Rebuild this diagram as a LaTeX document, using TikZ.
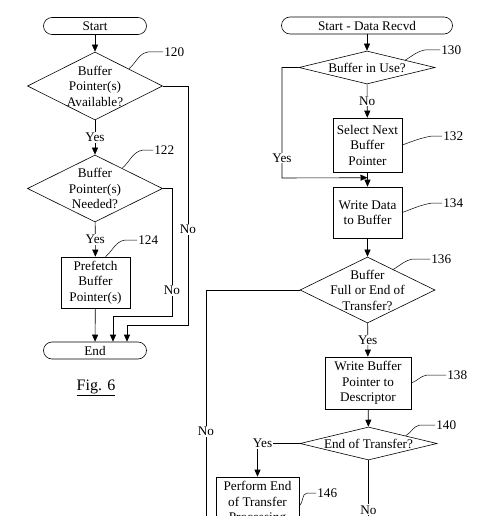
\documentclass[tikz,border=0pt]{standalone}
\usepackage{fontspec}
\setmainfont{Liberation Serif}
\usetikzlibrary{shapes.geometric,arrows.meta,calc}
\begin{document}
\begin{tikzpicture}[x=1pt,y=-1pt,>={Triangle[length=7pt,width=6pt]},line width=0.6pt,font=\fontsize{13.2}{15.5}\selectfont]
  \tikzstyle{terminal}=[draw,rounded corners=8.5pt,minimum height=17pt,inner sep=0pt]
  \tikzstyle{decision}=[diamond,draw,inner sep=0pt]
  \tikzstyle{process}=[draw,align=center,inner sep=2pt,minimum height=51pt]
  \tikzstyle{answer}=[fill=white,inner sep=1pt]
  \tikzstyle{refnum}=[anchor=west,inner sep=1pt]
  \tikzstyle{leader}=[draw,line width=0.5pt]
  \useasboundingbox (0,0) rectangle (500,516);
  \clip (0,0) rectangle (500,516);
  % left flow
  \node [terminal,minimum width=103pt] (start) at (95,26) {Start};
  \node [decision,minimum width=135pt,minimum height=68pt,label={[align=center]center:Buffer\\Pointer(s)\\Available?}] (q120) at (95,86) {};
  \node [decision,minimum width=135pt,minimum height=67pt,label={[align=center]center:Buffer\\Pointer(s)\\Needed?}] (q122) at (95,188.5) {};
  \node [process,minimum width=69pt] (b124) at (95.5,282.5) {Prefetch\\Buffer\\Pointer(s)};
  \node [terminal,minimum width=103pt] (stop) at (95,350.5) {End};
  \node [font=\fontsize{16}{19}\selectfont] (fig) at (96,388) {\underline{Fig. 6}};
  \node [refnum] (n120) at (163,52) {120};
  \node [refnum] (n122) at (153,150) {122};
  \node [refnum] (n124) at (137,240) {124};
  \draw[->] (start) -- (q120);
  \draw[->] (q120) -- node[answer] {Yes} (q122);
  \draw[->] (q122) -- node[answer] {Yes} (b124);
  \draw[->] (b124) -- (stop);
  \draw[->] (q120.east) -- (188,86) -- node[answer,pos=0.6] {No} (188,325) -| ([xshift=32pt]stop.north);
  \draw[->] (q122.east) -- (172,188.5) -- node[answer,pos=0.8] {No} (172,316) -| ([xshift=18pt]stop.north);
  \draw[leader] ($(q120.north)!0.5!(q120.east)$) to[out=40,in=190] (148,52) -- (n120.west);
  \draw[leader] ($(q122.north)!0.4!(q122.east)$) to[out=40,in=190] (143,150) -- (n122.west);
  \draw[leader] ([xshift=10pt]b124.north) to[out=40,in=190] (125,240) -- (n124.west);
  % right flow
  \node [terminal,minimum width=171pt] (start2) at (367,25.5) {Start - Data Recvd};
  \node [decision,minimum width=136pt,minimum height=33pt,label={center:Buffer in Use?}] (q130) at (367,67.5) {};
  \node [process,minimum width=69pt,minimum height=54pt] (b132) at (367.5,145) {Select Next\\Buffer\\Pointer};
  \node [process,minimum width=69pt] (b134) at (367.5,212.5) {Write Data\\to Buffer};
  \node [decision,minimum width=135pt,minimum height=66pt,label={[align=center]center:Buffer\\Full or End of\\Transfer?}] (q136) at (367.5,290) {};
  \node [process,minimum width=86pt,minimum height=52pt] (b138) at (368,383) {Write Buffer\\Pointer to\\Descriptor};
  \node [decision,minimum width=137pt,minimum height=33pt,label={center:End of Transfer?}] (q140) at (368.5,443.5) {};
  \node [process,minimum width=83pt,minimum height=52pt] (b146) at (257.5,503) {Perform End\\of Transfer\\Processing};
  \node [refnum] (n130) at (440,50) {130};
  \node [refnum] (n132) at (442,136) {132};
  \node [refnum] (n134) at (442,203) {134};
  \node [refnum] (n136) at (430,259) {136};
  \node [refnum] (n138) at (446,375) {138};
  \node [refnum] (n140) at (435,425) {140};
  \node [refnum] (n146) at (316,493) {146};
  \draw[->] (start2) -- (q130);
  \draw[->] (q130) -- node[answer] {No} (b132);
  \draw[->] (b132) -- (b134);
  \draw[->] (q130.west) -- (282,67.5) -- node[answer,pos=0.82] {Yes} (282,178) -- ([yshift=9pt]b134.north);
  \draw[->] (b134) -- (q136);
  \draw[->] (q136) -- node[answer] {Yes} (b138);
  \draw[->] (b138) -- (q140);
  \draw[->] (q140.west) -| node[answer,pos=0.44] {Yes} (b146.north);
  \draw (q140.south) -- node[answer,pos=0.71] {No} (368.5,530);
  \draw (q136.west) -- (206,290) -- node[answer,pos=0.59] {No} (206,530);
  \draw[leader] ($(q130.north)!0.56!(q130.east)$) to[out=30,in=190] (425,50) -- (n130.west);
  \draw[leader] (b132.east) to[out=20,in=190] (432,136) -- (n132.west);
  \draw[leader] (b134.east) to[out=20,in=190] (432,203) -- (n134.west);
  \draw[leader] ($(q136.north)!0.38!(q136.east)$) to[out=30,in=190] (413,259) -- (n136.west);
  \draw[leader] (b138.east) to[out=20,in=190] (427,375) -- (n138.west);
  \draw[leader] ($(q140.north)!0.54!(q140.east)$) to[out=30,in=190] (420,425) -- (n140.west);
  \draw[leader] ([yshift=-3pt]b146.east) to[out=40,in=190] (307,493) -- (n146.west);
\end{tikzpicture}
\end{document}
